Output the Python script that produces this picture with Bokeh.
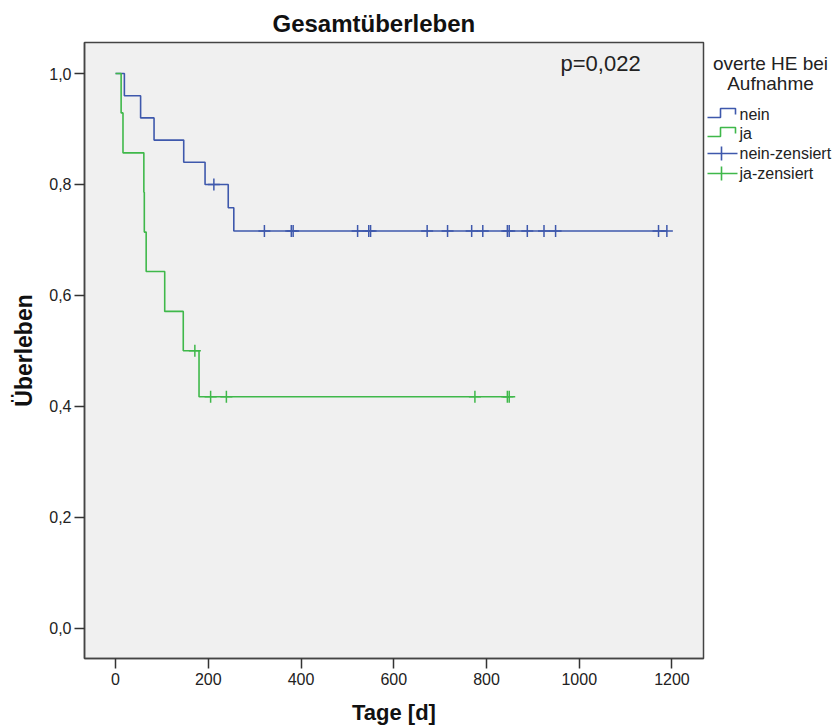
from bokeh.plotting import figure
from bokeh.models import Range1d, FixedTicker, CustomJSTickFormatter, Label
from bokeh.layouts import row
from bokeh.embed import file_html
from bokeh.resources import INLINE
from bokeh.core.properties import value

# ---------------- data ----------------
nein_event_days = [19, 54, 83, 147, 193, 243, 255]
nein_survival = [0.96, 0.92, 0.88, 0.84, 0.80, 0.758, 0.716]
nein_censor_days = [212, 321, 379, 383, 522, 546, 550, 672, 716, 768, 792,
                    845, 849, 888, 924, 949, 1171, 1189]

ja_event_days = [12, 16, 61, 62, 66, 106, 146, 180]
ja_survival = [0.929, 0.857, 0.786, 0.714, 0.643, 0.571, 0.500, 0.417]
ja_censor_days = [171, 205, 239, 775, 845, 849]

x_ticks = [0, 200, 400, 600, 800, 1000, 1200]
y_ticks = [0.0, 0.2, 0.4, 0.6, 0.8, 1.0]

title_text = "Gesamtüberleben"
x_label = "Tage [d]"
y_label = "Überleben"
p_value_text = "p=0,022"
legend_title = ["overte HE bei", "Aufnahme"]
legend_labels = ["nein", "ja", "nein-zensiert", "ja-zensiert"]

BLUE = "#3E58AC"
GREEN = "#3FB84A"
FONT = "Liberation Sans"


def step_xy(events, surv, censors):
    xs = [0] + list(events) + [max(censors)]
    ys = [1.0] + list(surv) + [surv[-1]]
    return xs, ys


def surv_at(t, events, surv):
    s = 1.0
    for e, v in zip(events, surv):
        if e <= t:
            s = v
    return s


# ---------------- main plot ----------------
p = figure(width=706, height=727,
           x_range=Range1d(-67, 1268), y_range=Range1d(-0.055, 1.056),
           output_backend="svg", toolbar_location=None,
           min_border_left=84, min_border_right=3,
           min_border_top=42, min_border_bottom=69)

p.background_fill_color = "#F0F0F0"
p.border_fill_color = "white"
p.outline_line_color = "#444444"
p.outline_line_width = 1.5
p.xgrid.visible = False
p.ygrid.visible = False

p.title.text = title_text
p.title.text_font = FONT
p.title.text_font_style = "bold"
p.title.text_font_size = "24px"
p.title.text_color = "#111111"
p.title.align = "left"
p.title.offset = 188
p.title.standoff = 11

for ax in (p.xaxis[0], p.yaxis[0]):
    ax.major_tick_out = 10
    ax.major_tick_in = 0
    ax.minor_tick_out = 0
    ax.minor_tick_in = 0
    ax.minor_tick_line_color = None
    ax.major_tick_line_color = "#333333"
    ax.major_tick_line_width = 1.5
    ax.axis_line_color = "#444444"
    ax.axis_line_width = 1.5
    ax.major_label_text_font = FONT
    ax.major_label_text_font_size = "16px"
    ax.major_label_text_color = "#222222"
    ax.axis_label_text_font = FONT
    ax.axis_label_text_font_style = "bold"
    ax.axis_label_text_color = "#111111"

p.xaxis.axis_label_text_font_size = "22px"
p.yaxis.axis_label_text_font_size = "23px"
p.xaxis.ticker = FixedTicker(ticks=x_ticks)
p.yaxis.ticker = FixedTicker(ticks=y_ticks)
p.yaxis.formatter = CustomJSTickFormatter(code="return tick.toFixed(1).replace('.', ',');")
p.xaxis.axis_label = x_label
p.yaxis.axis_label = y_label
p.xaxis.major_label_standoff = 4
p.yaxis.major_label_standoff = 3
p.xaxis.axis_label_standoff = 12
p.yaxis.axis_label_standoff = 9

nx, ny = step_xy(nein_event_days, nein_survival, nein_censor_days)
jx, jy = step_xy(ja_event_days, ja_survival, ja_censor_days)
p.step(nx, ny, mode="after", line_color=BLUE, line_width=1.6)
p.step(jx, jy, mode="after", line_color=GREEN, line_width=1.6)

p.scatter(nein_censor_days,
          [surv_at(t, nein_event_days, nein_survival) for t in nein_censor_days],
          marker="cross", size=12, line_color=BLUE, line_width=1.5)
p.scatter(ja_censor_days,
          [surv_at(t, ja_event_days, ja_survival) for t in ja_censor_days],
          marker="cross", size=12, line_color=GREEN, line_width=1.5)

p.add_layout(Label(x=1046, y=1.018, text=p_value_text, text_align="center",
                   text_baseline="middle", text_font=FONT, text_font_size="22px",
                   text_color="#222222"))

# ---------------- legend panel ----------------
# frame of this panel is aligned with the main frame (screen y 42..658)
lg = figure(width=131, height=727, x_range=Range1d(0, 131), y_range=Range1d(658, 42),
            output_backend="svg", toolbar_location=None,
            x_axis_type=None, y_axis_type=None,
            min_border=0, min_border_left=0, min_border_right=0,
            min_border_top=0, min_border_bottom=0)
lg.outline_line_color = None
lg.background_fill_color = "white"
lg.border_fill_color = "white"
lg.grid.visible = False

lg.text(x=[64, 64], y=[63, 83], text=legend_title, text_align="center",
        text_baseline="middle", text_font=value(FONT), text_font_size=value("19px"),
        text_color="#222222")

# step icons
lg.line([1, 14, 14, 29, 29], [117, 117, 108, 108, 114], line_color=BLUE, line_width=1.6)
lg.line([1, 14, 14, 29, 29], [136, 136, 127, 127, 133], line_color=GREEN, line_width=1.6)
# censor icons
lg.line([1, 31], [153, 153], line_color=BLUE, line_width=1.6)
lg.line([15, 15], [146, 160], line_color=BLUE, line_width=1.6)
lg.line([1, 31], [173, 173], line_color=GREEN, line_width=1.6)
lg.line([15, 15], [166, 180], line_color=GREEN, line_width=1.6)

lg.text(x=[33, 33, 33, 33], y=[114, 133, 153, 173], text=legend_labels,
        text_align="left", text_baseline="middle", text_font=value(FONT),
        text_font_size=value("16px"), text_color="#222222")

layout = row(p, lg, spacing=0)
open("out.html", "w").write(file_html(layout, INLINE))
